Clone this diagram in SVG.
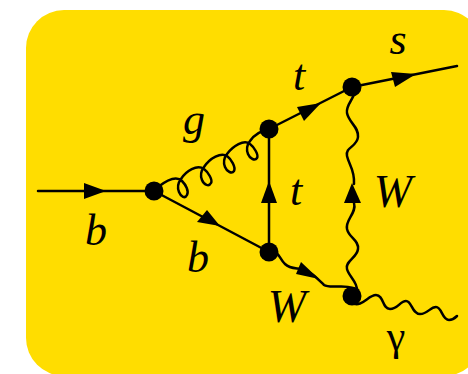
<svg xmlns="http://www.w3.org/2000/svg" width="468" height="374" viewBox="0 0 468 374">
<style>
.l{fill:none;stroke:#000;stroke-width:2.5;stroke-linecap:round;stroke-linejoin:round}
.w{fill:none;stroke:#000;stroke-width:2.5;stroke-linecap:round}
.a{fill:#000}
.v{fill:#000}
text{font-family:"Liberation Serif","Times New Roman",serif;font-style:italic;font-size:44px;fill:#000;text-anchor:middle}
</style>
<rect x="26" y="10" width="456" height="366" rx="38" ry="38" fill="#ffdd00"/>
<g id="connectors">
<path class="l" d="M38,191H154"/>
<polygon class="a" points="84,183 106,191 84,199"/>
<path class="l" d="M154,191L269,252"/>
<polygon class="a" points="207,210 220,226 197,222"/>
<path class="l" d="M269,252V129"/>
<polygon class="a" points="261,203 269,181 277,203"/>
<path class="l" d="M269,129L352,87"/>
<polygon class="a" points="297,107 321,103 304,121"/>
<path class="l" d="M352,87L457,66"/>
<polygon class="a" points="391,72 416,74 395,87"/>
<path class="w" d="M158,187C167,180 176,175 182,181C186,185 189,191 187,195C185,199 181,197 179,192C177,187 178,183 181,179C186,171 197,164 204,169C208,172 213,180 211,183C209,187 204,185 202,180C200,175 201,171 204,167C210,158 221,152 227,156C231,159 236,167 234,171C232,174 227,172 225,167C223,162 224,158 227,154C233,146 244,139 250,144C254,147 259,155 257,158C255,161 250,159 248,154C246,149 247,145 250,141C254,135 260,131 269,129"/>
<path class="w" d="M269,252C279,249 279,259 285,264C290,269 296,268 301,269C311,271 318,279 324,285C330,289 344,284 352,288"/>
<polygon class="a" points="301,262 319,279 296,274"/>
<path class="w" d="M352,87C360,95 345,103 347,113C349,123 359,127 358,137C357,147 345,147 347,156C349,165 355,170 354,184"/>
<path class="w" d="M354,203C357,213 345,220 347,229C349,238 359,240 358,249C357,258 345,261 347,269C349,277 358,281 358,296"/>
<polygon class="a" points="344,203 352,183 361,203"/>
<path class="w" d="M352,303C362,308 368,295 376,295C384,295 382,309 390,309C398,309 400,301 406,301C412,301 412,314 420,314C428,314 430,307 436,307C442,307 442,320 449,320C453,320 455,318 457,316"/>
</g>
<g id="v1"><circle class="v" cx="154" cy="191" r="9.5"/></g>
<g id="v2"><circle class="v" cx="269" cy="129" r="9.5"/></g>
<g id="v3"><circle class="v" cx="269" cy="252" r="9.5"/></g>
<g id="v4"><circle class="v" cx="352" cy="87" r="9.5"/></g>
<g id="v5"><circle class="v" cx="352" cy="296" r="9.5"/></g>
<g id="labels">
<text x="194" y="134">g</text>
<text x="398" y="54">s</text>
<text x="299" y="90">t</text>
<text x="296" y="205">t</text>
<text x="96" y="245">b</text>
<text x="198" y="272">b</text>
<text x="393" y="207" style="font-size:46px">W</text>
<text x="287" y="322" style="font-size:46px">W</text>
<text x="396" y="350" style="font-size:42px;font-style:normal">γ</text>
</g>
</svg>
